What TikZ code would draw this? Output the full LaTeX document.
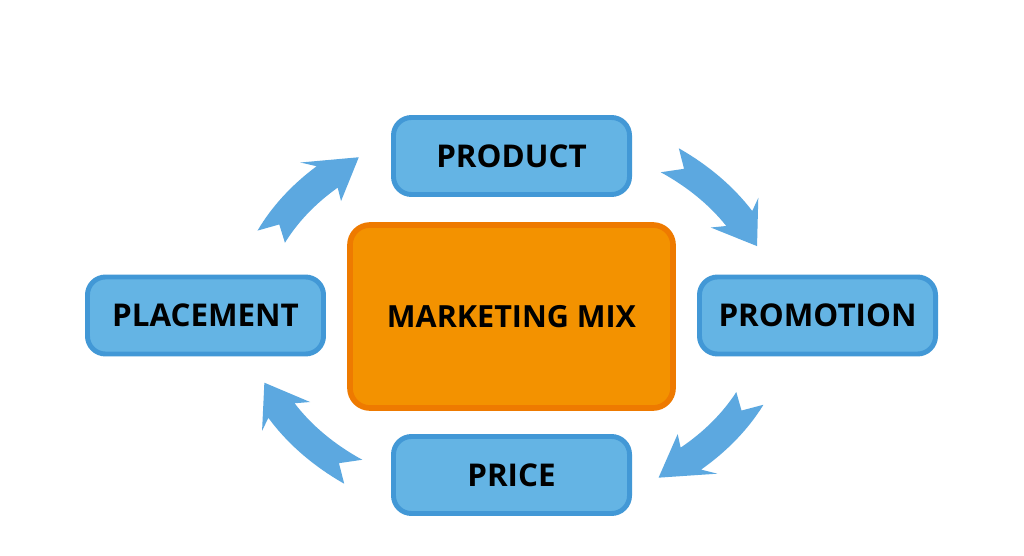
\documentclass[tikz,border=0pt]{standalone}
\usepackage{fontspec}
\setmainfont{Open Sans}
\definecolor{boxblue}{RGB}{100,180,228}
\definecolor{boxblueedge}{RGB}{66,152,214}
\definecolor{arrowblue}{RGB}{92,168,224}
\definecolor{mixorange}{RGB}{243,146,0}
\definecolor{mixedge}{RGB}{238,122,0}
\newcommand\cx{511.5}
\newcommand\cy{239}
\newcommand\ea{263}
\newcommand\eb{195}
\newcommand\sw{15}
\newcommand\hw{28}
\newcommand\cyclearrow[2]{%
 \fill[arrowblue] ({\cx+(\ea+\sw)*cos(#1)},{\cy+(\eb+\sw)*sin(#1)})
   arc[start angle=#1, end angle=#2+9, x radius=\ea+\sw, y radius=\eb+\sw]
   -- ({\cx+(\ea+\hw)*cos(#2+11)},{\cy+(\eb+\hw)*sin(#2+11)})
   -- ({\cx+\ea*cos(#2)},{\cy+\eb*sin(#2)})
   -- ({\cx+(\ea-\hw)*cos(#2+11)},{\cy+(\eb-\hw)*sin(#2+11)})
   -- ({\cx+(\ea-\sw)*cos(#2+9)},{\cy+(\eb-\sw)*sin(#2+9)})
   arc[start angle=#2+9, end angle=#1, x radius=\ea-\sw, y radius=\eb-\sw]
   -- ({\cx+\ea*cos(#1-4)},{\cy+\eb*sin(#1-4)}) -- cycle;
}
\tikzset{
  pbox/.style={draw=boxblueedge, fill=boxblue, line width=3.5pt, rounded corners=0.45cm,
    minimum width=5.9cm, minimum height=1.925cm, inner sep=0pt, outer sep=0pt,
    font=\bfseries\fontsize{22.3}{25}\selectfont, text=black},
  mixbox/.style={draw=mixedge, fill=mixorange, line width=4pt, rounded corners=0.5cm,
    minimum width=8.075cm, minimum height=4.575cm, inner sep=0pt, outer sep=0pt,
    font=\bfseries\fontsize{21.7}{24}\selectfont, text=black}
}
\begin{document}
\begin{tikzpicture}[x=0.025cm, y=0.025cm]
\useasboundingbox[fill=white] (0,0) rectangle (1024,555);
\node[pbox] (product) at (511.5,399) {PRODUCT};
\node[pbox] (placement) at (205.5,239.5) {PLACEMENT};
\node[pbox] (promotion) at (817.5,239.5) {PROMOTION};
\node[pbox] (price) at (511.5,80) {PRICE};
\node[mixbox] (mix) at (511.5,238.5) {MARKETING MIX};
\cyclearrow{156}{125.5}
\cyclearrow{53}{21}
\cyclearrow{-25}{-56}
\cyclearrow{233}{200}
\end{tikzpicture}
\end{document}
